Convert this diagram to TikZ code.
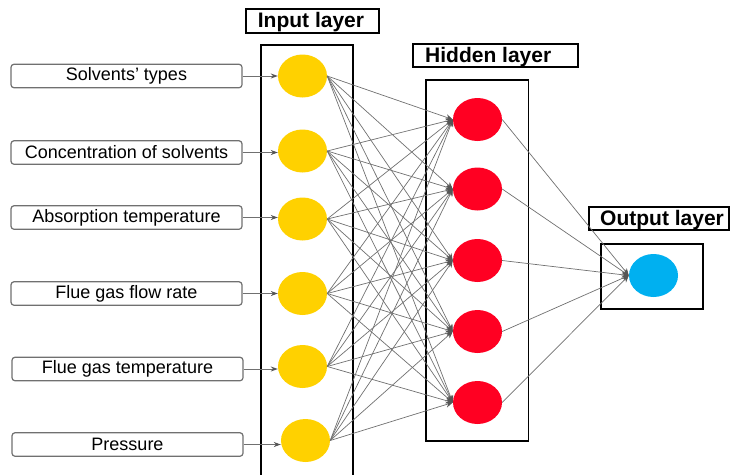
\documentclass[tikz,border=0pt]{standalone}
\usepackage{fontspec}
\setmainfont{Liberation Sans}
\usetikzlibrary{shapes.geometric,arrows.meta}
\definecolor{inyellow}{HTML}{FFD100}
\definecolor{hidred}{HTML}{FF0022}
\definecolor{outblue}{HTML}{00B0F0}
\definecolor{linegray}{HTML}{707070}
\definecolor{tipgray}{HTML}{555555}
\begin{document}
\begin{tikzpicture}[x=1pt,y=-1pt,
  labelbox/.style={draw=linegray,line width=1.2pt,rounded corners=3pt,minimum width=231pt,minimum height=23.5pt,inner sep=0pt,font=\fontsize{18}{20}\selectfont},
  neuron/.style={ellipse,draw=none,minimum width=49pt,minimum height=43pt,inner sep=0pt},
  title/.style={font=\fontsize{21}{24}\bfseries\selectfont,inner sep=0pt},
  layerbox/.style={draw=black,line width=1.5pt},
  conn/.style={draw=linegray,line width=0.7pt,-{Stealth[length=7pt,width=6pt,fill=tipgray,color=tipgray]}},
  feed/.style={draw=linegray,line width=1pt,-{Stealth[length=7pt,width=5pt,fill=tipgray,color=tipgray]}}
]
\useasboundingbox (0,0) rectangle (730,474);
% layer frames
\draw[layerbox] (261,480) -- (261,45) -- (353,45) -- (353,480);
\draw[layerbox] (426,80) rectangle (528.5,441);
\draw[layerbox] (601,244) rectangle (703,309);
% titles
\draw[line width=1.3pt] (246,9) rectangle (379,33);
\node[title] (tin) at (311,22.5) {Input layer};
\draw[line width=1.3pt] (413,44) rectangle (578,67);
\node[title,anchor=west] (thid) at (425,57) {Hidden layer};
\draw[line width=1.3pt] (589,207) rectangle (729,230);
\node[title,anchor=west] (tout) at (600,220) {Output layer};
% input labels
\node[labelbox] (l1) at (126.5,76) {Solvents’ types};
\node[labelbox] (l2) at (126.5,152.5) {Concentration of solvents};
\node[labelbox] (l3) at (126.5,217.5) {Absorption temperature};
\node[labelbox] (l4) at (126.5,293.5) {Flue gas flow rate};
\node[labelbox] (l5) at (127.5,369) {Flue gas temperature};
\node[labelbox] (l6) at (127.5,444.5) {Pressure};
% input neurons
\node[neuron,fill=inyellow] (i1) at (302.5,76) {};
\node[neuron,fill=inyellow] (i2) at (302.5,151) {};
\node[neuron,fill=inyellow] (i3) at (302.5,219) {};
\node[neuron,fill=inyellow] (i4) at (302.5,293.5) {};
\node[neuron,fill=inyellow] (i5) at (302.5,366.5) {};
\node[neuron,fill=inyellow] (i6) at (305.5,440.5) {};
% hidden neurons
\node[neuron,fill=hidred] (h1) at (477.5,119.5) {};
\node[neuron,fill=hidred] (h2) at (477.5,189) {};
\node[neuron,fill=hidred] (h3) at (477.5,260.5) {};
\node[neuron,fill=hidred] (h4) at (477.5,331.5) {};
\node[neuron,fill=hidred] (h5) at (477.5,402.5) {};
% output neuron
\node[neuron,fill=outblue] (o1) at (653.5,275.5) {};
% feeds
\foreach \k in {1,...,6} {\draw[feed] (l\k.east) -- (l\k.east -| i\k.west);}
% connections
\foreach \a in {1,...,6} {
  \foreach \b in {1,...,5} {
    \draw[conn] (i\a.east) -- (h\b.west);
  }
}
\foreach \b in {1,...,5} {\draw[conn] (h\b.east) -- (o1.west);}
\end{tikzpicture}
\end{document}
